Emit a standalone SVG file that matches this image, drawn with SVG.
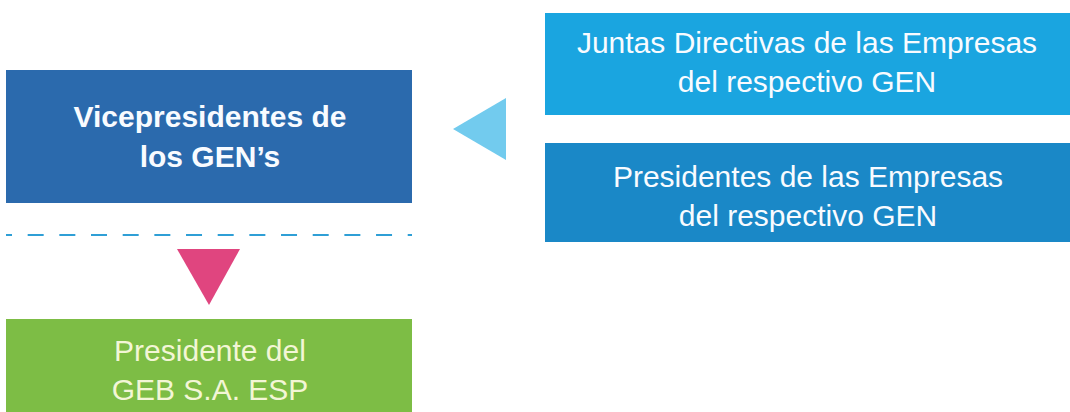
<svg xmlns="http://www.w3.org/2000/svg" width="1070" height="412" viewBox="0 0 1070 412">
<style>
  .t { font-family: "Liberation Sans", Arial, sans-serif; font-size: 30px; text-anchor: middle; fill: #f8fbff; }
  .b { font-weight: bold; }
  .g { fill: #f3f6d6; }
</style>
<rect width="1070" height="412" fill="#ffffff"/>
<g id="connectors">
  <line x1="6" y1="235" x2="412" y2="235" stroke="#2f9fd6" stroke-width="2" stroke-dasharray="16 15.67" stroke-dashoffset="10"/>
  <polygon points="177,249 240,249 209,305" fill="#e0457f"/>
  <polygon points="506,98 506,160 453,129" fill="#72cbee"/>
</g>
<g id="vicepresidentes">
  <rect x="6" y="70" width="406" height="133" fill="#2b6aad"/>
  <text class="t b" x="210" y="127">Vicepresidentes de</text>
  <text class="t b" x="210" y="167">los GEN’s</text>
</g>
<g id="presidente-geb">
  <rect x="6" y="319" width="406" height="93" fill="#7dbd45"/>
  <text class="t g" x="210" y="361">Presidente del</text>
  <text class="t g" x="210" y="400">GEB S.A. ESP</text>
</g>
<g id="juntas">
  <rect x="545" y="13" width="525" height="102" fill="#1aa5e0"/>
  <text class="t" x="807" y="53">Juntas Directivas de las Empresas</text>
  <text class="t" x="807" y="92">del respectivo GEN</text>
</g>
<g id="presidentes-empresas">
  <rect x="545" y="143" width="525" height="99" fill="#1a88c7"/>
  <text class="t" x="808" y="187">Presidentes de las Empresas</text>
  <text class="t" x="808" y="226">del respectivo GEN</text>
</g>
</svg>
